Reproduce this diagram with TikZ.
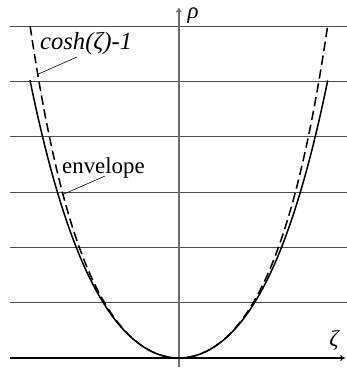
\documentclass[tikz,border=0pt]{standalone}
\usepackage{fontspec}
\setmainfont{Liberation Serif}
\usetikzlibrary{arrows.meta, calc}
\definecolor{gaxis}{HTML}{6E6E6E}
\definecolor{ggrid}{HTML}{4A4A4A}
\tikzset{
  gridline/.style={draw=ggrid, line width=0.7pt},
  axisline/.style={-{To[length=4pt,width=5pt]}, line width=0.9pt},
  curve/.style={line width=1.3pt, smooth, samples=120},
  leader/.style={draw, line width=0.5pt},
}
\begin{document}
\begin{tikzpicture}[x=1.695cm, y=1.66cm,
    lbl/.style={font=\fontsize{19.5}{22}\selectfont, inner sep=0pt}]
  \useasboundingbox (-3.168,-0.217) rectangle (2.973,6.474);
  % levels of rho
  \foreach \r in {1,...,6}
    \draw[gridline] (-2.99,\r) -- (2.973,\r);
  \draw[axisline, black] (-2.99,0) -- (2.94,0);
  \draw[axisline, gaxis, line width=1.2pt] (0,-0.163) -- (0,6.33);
  % the two curves
  \draw[curve, dash pattern=on 8pt off 4pt, domain=-2.634:2.634]
    plot (\x,{cosh(\x)-1});
  \draw[curve, domain=-2.637:2.637]
    plot (\x,{0.5*\x*\x+0.032*\x*\x*\x*\x});
  \node[lbl, anchor=base west, font=\fontsize{21}{24}\selectfont] (coshlbl)
    at (-2.46,5.57) {\textit{cosh(ζ)-1}};
  \node[lbl, anchor=base west] (envlbl) at (-2.07,3.345) {envelope};
  \node[lbl] (rholbl) at (0.25,6.19) {\textit{ρ}};
  \node[lbl] (zetalbl) at (2.76,0.31) {\textit{ζ}};
  \coordinate (coshpt) at (-2.5,5.13);
  \coordinate (envpt) at (-2.07,2.95);
  \draw[leader] ($(coshlbl.base west)+(0.655,-0.127)$) -- (coshpt);
  \draw[leader] ($(envlbl.base west)+(0.76,-0.055)$) -- (envpt);
\end{tikzpicture}
\end{document}
